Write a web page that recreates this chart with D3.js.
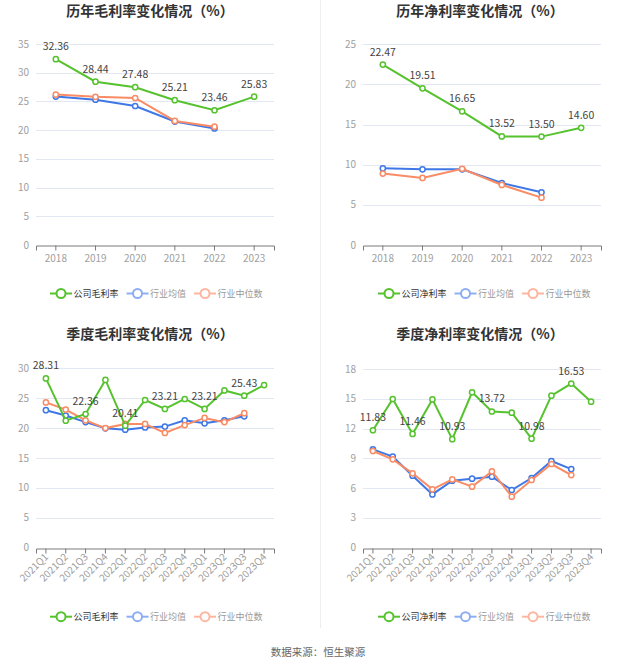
<!DOCTYPE html>
<html>
<head>
<meta charset="utf-8">
<script src="https://cdn.jsdelivr.net/npm/d3@7"></script>
<style>
  body { margin: 0; background: #fff; }
  svg { display: block; font-family: "Noto Sans CJK SC", "Noto Sans", sans-serif; }
</style>
</head>
<body>
<svg id="chart" width="637" height="668"></svg>
<script>
// categories
var years = ['2018', '2019', '2020', '2021', '2022', '2023'];
var quarters = ['2021Q1', '2021Q2', '2021Q3', '2021Q4', '2022Q1', '2022Q2', '2022Q3', '2022Q4', '2023Q1', '2023Q2', '2023Q3', '2023Q4'];

// annual gross margin
var grossYear = [32.36, 28.44, 27.48, 25.21, 23.46, 25.83];
var grossYearAvg = [25.85, 25.3, 24.2, 21.5, 20.3];
var grossYearMed = [26.2, 25.8, 25.6, 21.6, 20.6];

// annual net margin
var netYear = [22.47, 19.51, 16.65, 13.52, 13.50, 14.60];
var netYearAvg = [9.55, 9.43, 9.43, 7.72, 6.56];
var netYearMed = [8.9, 8.35, 9.5, 7.48, 5.9];

// quarterly gross margin
var grossQ = [28.31, 21.25, 22.36, 28.05, 20.41, 24.7, 23.21, 24.87, 23.21, 26.3, 25.43, 27.2];
var grossQAvg = [23.0, 22.1, 21.0, 19.97, 19.74, 20.1, 20.25, 21.3, 20.8, 21.3, 21.97];
var grossQMed = [24.3, 23.1, 21.3, 20.0, 20.7, 20.7, 19.2, 20.5, 21.7, 21.0, 22.5];

// quarterly net margin
var netQ = [11.83, 14.98, 11.46, 14.94, 10.93, 15.65, 13.72, 13.6, 10.98, 15.31, 16.53, 14.71];
var netQAvg = [9.9, 9.17, 7.25, 5.37, 6.75, 6.95, 7.15, 5.81, 7.02, 8.73, 7.92];
var netQMed = [9.74, 8.9, 7.49, 5.88, 6.88, 6.15, 7.69, 5.14, 6.82, 8.43, 7.32];

var GREEN = '#55c22e', BLUE = '#3f78e6', ORANGE = '#f98b65';

var svg = d3.select('#chart');

// panel divider
svg.append('line')
    .attr('x1', 320.5).attr('x2', 320.5)
    .attr('y1', 0).attr('y2', 628)
    .attr('stroke', '#eeeeee');

function drawPanel(opt) {
    var g = svg.append('g');

    var x = d3.scaleBand()
        .domain(opt.cats)
        .range([opt.left, opt.right]);
    var y = d3.scaleLinear()
        .domain([0, opt.ymax])
        .range([opt.bottom, opt.top]);
    var cx = function(i) { return x(opt.cats[i]) + x.bandwidth() / 2; };

    // title
    g.append('text')
        .attr('x', opt.titleX).attr('y', opt.titleY)
        .attr('text-anchor', 'middle')
        .attr('font-size', 14).attr('font-weight', 'bold')
        .attr('fill', '#333')
        .text(opt.title);

    // grid + y labels
    var ticks = d3.range(0, opt.ymax + 0.001, opt.ystep);
    g.selectAll('.grid').data(ticks.slice(1)).enter().append('line')
        .attr('x1', opt.left).attr('x2', opt.right)
        .attr('y1', function(d) { return Math.round(y(d)) + 0.5; })
        .attr('y2', function(d) { return Math.round(y(d)) + 0.5; })
        .attr('stroke', '#e3e7f1');
    g.selectAll('.ylab').data(ticks).enter().append('text')
        .attr('x', opt.left - 7).attr('y', function(d) { return y(d) + 3.5; })
        .attr('text-anchor', 'end')
        .attr('font-size', 10).attr('fill', '#a0a0a0')
        .text(function(d) { return d; });

    // x axis
    var xAxis = d3.axisBottom(x).tickSizeOuter(0).tickSize(5);
    var ax = g.append('g')
        .attr('transform', 'translate(0,' + (Math.round(opt.bottom) + 0.5) + ')')
        .call(xAxis);
    ax.select('.domain').attr('stroke', '#7a7a7a');
    ax.selectAll('.tick line').attr('stroke', '#7a7a7a');
    ax.selectAll('.tick text')
        .attr('fill', '#a0a0a0').attr('font-size', 10)
        .attr('font-family', '"Noto Sans CJK SC", "Noto Sans", sans-serif');
    if (opt.rotate) {
        ax.selectAll('.tick text')
            .attr('text-anchor', 'end')
            .attr('dy', null).attr('y', 0)
            .attr('transform', 'translate(3,9) rotate(-45)');
    } else {
        ax.selectAll('.tick text').attr('y', 9);
    }

    // series
    var series = [
        { vals: opt.avg, color: BLUE },
        { vals: opt.med, color: ORANGE },
        { vals: opt.main, color: GREEN }
    ];
    var line = d3.line()
        .x(function(d, i) { return cx(i); })
        .y(function(d) { return y(d); });
    series.forEach(function(s) {
        g.append('path')
            .datum(s.vals)
            .attr('d', line)
            .attr('fill', 'none')
            .attr('stroke', s.color)
            .attr('stroke-width', 2);
        g.selectAll(null).data(s.vals).enter().append('circle')
            .attr('cx', function(d, i) { return cx(i); })
            .attr('cy', function(d) { return y(d); })
            .attr('r', 2.6)
            .attr('fill', '#fff')
            .attr('stroke', s.color)
            .attr('stroke-width', 1.5);
    });

    // data labels
    var labelled = opt.main
        .map(function(v, i) { return { v: v, i: i }; })
        .filter(function(d) { return d.i % opt.labelEvery === 0; });
    g.selectAll(null).data(labelled).enter()
        .append('text')
        .attr('x', function(d) { return cx(d.i); })
        .attr('y', function(d) { return y(d.v) - 9; })
        .attr('text-anchor', 'middle')
        .attr('font-size', 10.5).attr('fill', '#444')
        .text(function(d) { return d.v.toFixed(2); });

    // legend
    var items = [
        { name: opt.mainName, color: GREEN, text: '#333' },
        { name: '行业均值', color: '#8eaef3', text: '#999' },
        { name: '行业中位数', color: '#fdb7a0', text: '#999' }
    ];
    var lx = opt.legendX;
    items.forEach(function(it) {
        var lg = g.append('g').attr('transform', 'translate(' + lx + ',' + opt.legendY + ')');
        lg.append('line').attr('x1', 0).attr('x2', 22).attr('y1', 0).attr('y2', 0)
            .attr('stroke', it.color).attr('stroke-width', 2);
        lg.append('circle').attr('cx', 11).attr('cy', 0).attr('r', 4.5)
            .attr('fill', '#fff').attr('stroke', it.color).attr('stroke-width', 2);
        var t = lg.append('text').attr('x', 23.5).attr('y', 3.3)
            .attr('font-size', 9).attr('fill', it.text).text(it.name);
        lx += 23.5 + t.node().getComputedTextLength() + 8;
    });
}

drawPanel({
    title: '历年毛利率变化情况（%）', titleX: 150, titleY: 16,
    cats: years, left: 36, right: 274, top: 44, bottom: 245,
    ymax: 35, ystep: 5, main: grossYear, avg: grossYearAvg, med: grossYearMed,
    labelEvery: 1, mainName: '公司毛利率', legendX: 50, legendY: 293.5
});
drawPanel({
    title: '历年净利率变化情况（%）', titleX: 480, titleY: 16,
    cats: years, left: 363, right: 601, top: 44.3, bottom: 245,
    ymax: 25, ystep: 5, main: netYear, avg: netYearAvg, med: netYearMed,
    labelEvery: 1, mainName: '公司净利率', legendX: 378, legendY: 293.5
});
drawPanel({
    title: '季度毛利率变化情况（%）', titleX: 150, titleY: 339,
    cats: quarters, left: 36, right: 274, top: 368.3, bottom: 547.7,
    ymax: 30, ystep: 5, main: grossQ, avg: grossQAvg, med: grossQMed,
    labelEvery: 2, mainName: '公司毛利率', legendX: 50, legendY: 616.7, rotate: true
});
drawPanel({
    title: '季度净利率变化情况（%）', titleX: 480, titleY: 339,
    cats: quarters, left: 363, right: 601, top: 369, bottom: 547.7,
    ymax: 18, ystep: 3, main: netQ, avg: netQAvg, med: netQMed,
    labelEvery: 2, mainName: '公司净利率', legendX: 378, legendY: 616.7, rotate: true
});

// source
svg.append('text')
    .attr('x', 318).attr('y', 656)
    .attr('text-anchor', 'middle')
    .attr('font-size', 10.5).attr('fill', '#666')
    .text('数据来源：恒生聚源');
</script>
</body>
</html>
